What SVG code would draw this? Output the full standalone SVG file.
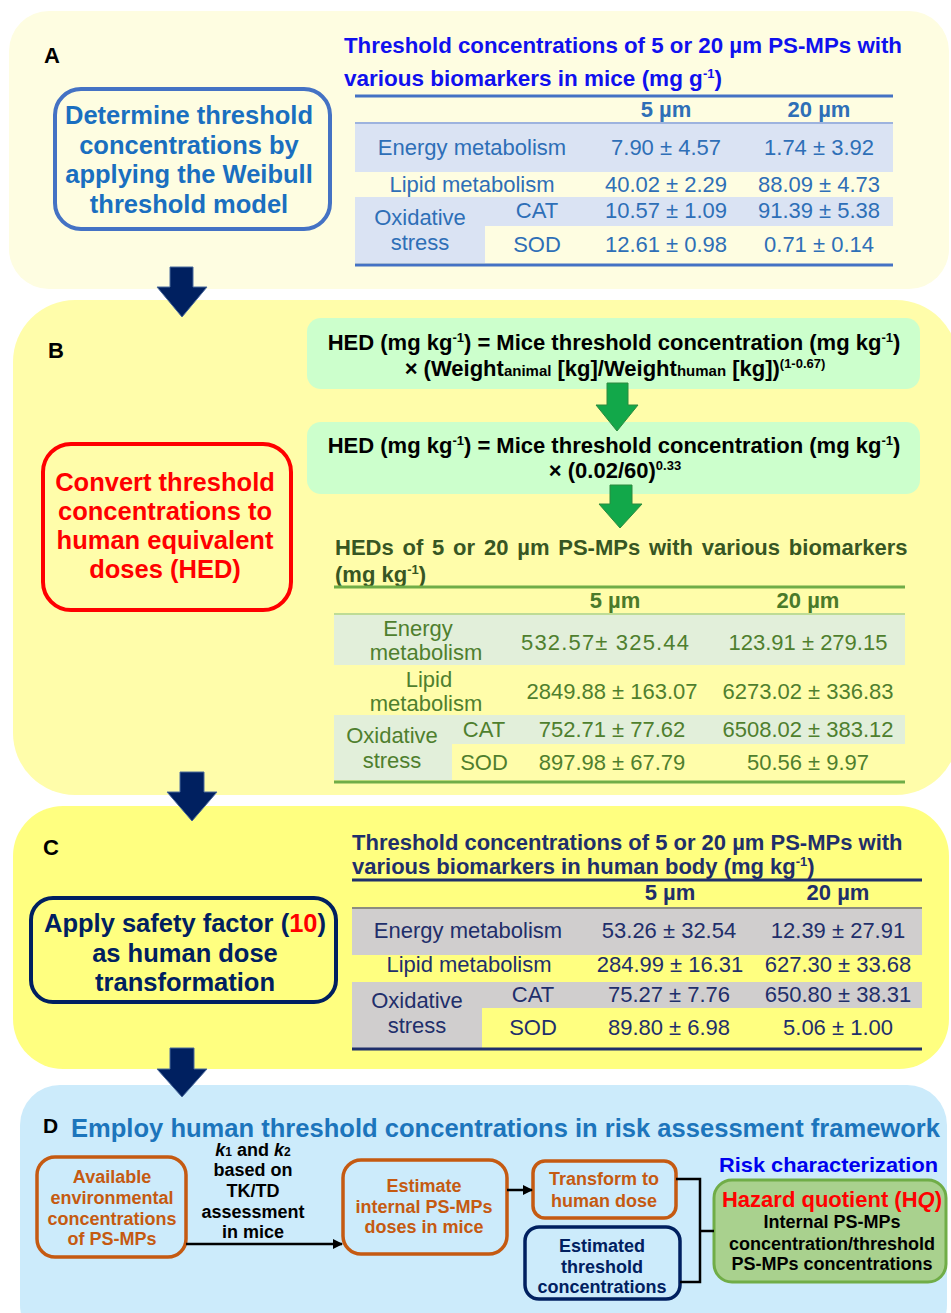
<svg xmlns="http://www.w3.org/2000/svg" width="951" height="1313" viewBox="0 0 951 1313">
<style>
text{font-family:"Liberation Sans",Arial,sans-serif}
.b{font-weight:bold}
.m{text-anchor:middle}
.lbl{font-size:22px;font-weight:bold;fill:#000}
.ta{font-size:22px;fill:#2E6FB7}
.tb{font-size:22px;fill:#4F7F2E}
.tc{font-size:22px;fill:#1F2F6B}
.form{font-size:22px;font-weight:bold;fill:#000}
.dn{font-size:18px;font-weight:bold}
.or{fill:#C55A11}
.nv{fill:#002060}
.bigarrow{fill:#002060;stroke:#4A6A9C;stroke-width:1}
.grarrow{fill:#12A84A;stroke:#2C8A3E;stroke-width:1}
.conn{stroke:#000;stroke-width:2.5;fill:none}
</style>
<defs>
<marker id="ah" markerWidth="10" markerHeight="10" refX="9" refY="5" orient="auto" markerUnits="userSpaceOnUse">
<path d="M0,0 L10,5 L0,10 Z" fill="#000"/>
</marker>
</defs>

<!-- Panel A -->
<g id="panelA">
<rect x="9" y="11" width="940" height="278" rx="40" fill="#FEFDE1"/>
<text class="lbl" x="44" y="63">A</text>
<text class="b" x="344" y="53" font-size="22.5" fill="#1010EE" textLength="558" lengthAdjust="spacingAndGlyphs">Threshold concentrations of 5 or 20 µm PS-MPs with</text>
<text class="b" x="344" y="86" font-size="22.5" fill="#1010EE">various biomarkers in mice (mg g<tspan dy="-8" font-size="13">-1</tspan><tspan dy="8">)</tspan></text>
</g>
<g id="nodeA-weibull">
<rect x="55" y="89" width="275" height="140" rx="26" fill="none" stroke="#4472C4" stroke-width="4"/>
<g class="b m" font-size="25.5" fill="#1A6FC0">
<text x="189" y="124">Determine threshold</text>
<text x="189" y="154">concentrations by</text>
<text x="189" y="183">applying the Weibull</text>
<text x="189" y="213">threshold model</text>
</g>
</g>
<g id="tableA">
<rect x="355" y="124" width="538" height="48" fill="#DAE3F3"/>
<rect x="355" y="197" width="538" height="29" fill="#DAE3F3"/>
<rect x="355" y="226" width="130" height="37" fill="#DAE3F3"/>
<line x1="355" y1="96" x2="893" y2="96" stroke="#4472C4" stroke-width="3"/>
<line x1="355" y1="123" x2="893" y2="123" stroke="#9DB3DE" stroke-width="2"/>
<line x1="355" y1="265" x2="893" y2="265" stroke="#4472C4" stroke-width="3"/>
<g class="ta m">
<text class="b" x="666" y="117">5 µm</text>
<text class="b" x="819" y="117">20 µm</text>
<text x="472" y="155">Energy metabolism</text>
<text x="666" y="155">7.90 ± 4.57</text>
<text x="819" y="155">1.74 ± 3.92</text>
<text x="472" y="192">Lipid metabolism</text>
<text x="666" y="192">40.02 ± 2.29</text>
<text x="819" y="192">88.09 ± 4.73</text>
<text x="420" y="225">Oxidative</text>
<text x="420" y="250">stress</text>
<text x="537" y="218">CAT</text>
<text x="666" y="218">10.57 ± 1.09</text>
<text x="819" y="218">91.39 ± 5.38</text>
<text x="537" y="252">SOD</text>
<text x="666" y="252">12.61 ± 0.98</text>
<text x="819" y="252">0.71 ± 0.14</text>
</g>
</g>

<!-- Panel B -->
<g id="panelB">
<rect x="13" y="300" width="945" height="495" rx="62" fill="#FFFDAA"/>
<text class="lbl" x="48" y="358">B</text>
</g>
<g id="nodeB-formula1">
<rect x="307" y="318" width="613" height="71" rx="14" fill="#CCFFCC"/>
<text class="form m" x="614" y="350">HED (mg kg<tspan dy="-8" font-size="13">-1</tspan><tspan dy="8">) = Mice threshold concentration (mg kg</tspan><tspan dy="-8" font-size="13">-1</tspan><tspan dy="8">)</tspan></text>
<text class="form m" x="615" y="376">× (Weight<tspan font-size="15">animal</tspan> [kg]/Weight<tspan font-size="15">human</tspan> [kg])<tspan dy="-8" font-size="13">(1-0.67)</tspan></text>
</g>
<g id="nodeB-formula2">
<rect x="307" y="422" width="613" height="72" rx="14" fill="#CCFFCC"/>
<text class="form m" x="614" y="453">HED (mg kg<tspan dy="-8" font-size="13">-1</tspan><tspan dy="8">) = Mice threshold concentration (mg kg</tspan><tspan dy="-8" font-size="13">-1</tspan><tspan dy="8">)</tspan></text>
<text class="form m" x="615" y="478">× (0.02/60)<tspan dy="-8" font-size="13">0.33</tspan></text>
</g>
<g id="nodeB-convert">
<rect x="43" y="444" width="248" height="166" rx="28" fill="none" stroke="#FF0000" stroke-width="4"/>
<g class="b m" font-size="25.5" fill="#FF0000">
<text x="165" y="491">Convert threshold</text>
<text x="165" y="520">concentrations to</text>
<text x="165" y="549">human equivalent</text>
<text x="165" y="578">doses (HED)</text>
</g>
</g>
<g id="tableB">
<text class="b" x="335" y="555" font-size="22" fill="#375623" word-spacing="2.7">HEDs of 5 or 20 µm PS-MPs with various biomarkers</text>
<text class="b" x="335" y="582" font-size="22" fill="#375623">(mg kg<tspan dy="-8" font-size="13">-1</tspan><tspan dy="8">)</tspan></text>
<rect x="334" y="615" width="571" height="50" fill="#E2EFDA"/>
<rect x="334" y="715" width="571" height="29" fill="#E2EFDA"/>
<rect x="334" y="744" width="118" height="36" fill="#E2EFDA"/>
<line x1="334" y1="587" x2="905" y2="587" stroke="#70AD47" stroke-width="3"/>
<line x1="334" y1="614" x2="905" y2="614" stroke="#A9D18E" stroke-width="1.5"/>
<line x1="334" y1="782" x2="905" y2="782" stroke="#70AD47" stroke-width="3"/>
<g class="tb m">
<text class="b" x="615" y="608" fill="#4A7A2A">5 µm</text>
<text class="b" x="808" y="608" fill="#4A7A2A">20 µm</text>
<text x="418" y="636">Energy</text>
<text x="426" y="660">metabolism</text>
<text x="605" y="650" textLength="168" lengthAdjust="spacing">532.57± 325.44</text>
<text x="808" y="650">123.91 ± 279.15</text>
<text x="429" y="687">Lipid</text>
<text x="426" y="711">metabolism</text>
<text x="612" y="699">2849.88 ± 163.07</text>
<text x="808" y="699">6273.02 ± 336.83</text>
<text x="392" y="743">Oxidative</text>
<text x="392" y="768">stress</text>
<text x="484" y="737">CAT</text>
<text x="612" y="737">752.71 ± 77.62</text>
<text x="808" y="737">6508.02 ± 383.12</text>
<text x="484" y="770">SOD</text>
<text x="612" y="770">897.98 ± 67.79</text>
<text x="808" y="770">50.56 ± 9.97</text>
</g>
</g>

<!-- Panel C -->
<g id="panelC">
<rect x="13" y="806" width="936" height="263" rx="50" fill="#FFFF80"/>
<text class="lbl" x="43" y="855">C</text>
</g>
<g id="nodeC-safety">
<rect x="31" y="898" width="305" height="104" rx="22" fill="none" stroke="#002060" stroke-width="4"/>
<g class="b m" font-size="25.5" fill="#002060">
<text x="185" y="932">Apply safety factor (<tspan fill="#FF0000">10</tspan>)</text>
<text x="185" y="962">as human dose</text>
<text x="185" y="991">transformation</text>
</g>
</g>
<g id="tableC">
<text class="b" x="352" y="850" font-size="22" fill="#1F2F6B">Threshold concentrations of 5 or 20 µm PS-MPs with</text>
<text class="b" x="352" y="874" font-size="22" fill="#1F2F6B">various biomarkers in human body (mg kg<tspan dy="-8" font-size="13">-1</tspan><tspan dy="8">)</tspan></text>
<rect x="352" y="909" width="570" height="46" fill="#D0CECE"/>
<rect x="352" y="982" width="570" height="26" fill="#D0CECE"/>
<rect x="352" y="1008" width="130" height="40" fill="#D0CECE"/>
<line x1="352" y1="880" x2="922" y2="880" stroke="#1F2F6B" stroke-width="3"/>
<line x1="352" y1="908" x2="922" y2="908" stroke="#8C8C80" stroke-width="2"/>
<line x1="352" y1="1049" x2="922" y2="1049" stroke="#1F2F6B" stroke-width="3"/>
<g class="tc m">
<text class="b" x="670" y="900">5 µm</text>
<text class="b" x="838" y="900">20 µm</text>
<text x="468" y="938">Energy metabolism</text>
<text x="669" y="938">53.26 ± 32.54</text>
<text x="838" y="938">12.39 ± 27.91</text>
<text x="469" y="972">Lipid metabolism</text>
<text x="670" y="972">284.99 ± 16.31</text>
<text x="838" y="972">627.30 ± 33.68</text>
<text x="417" y="1008">Oxidative</text>
<text x="417" y="1033">stress</text>
<text x="533" y="1002">CAT</text>
<text x="669" y="1002">75.27 ± 7.76</text>
<text x="838" y="1002">650.80 ± 38.31</text>
<text x="533" y="1035">SOD</text>
<text x="669" y="1035">89.80 ± 6.98</text>
<text x="838" y="1035">5.06 ± 1.00</text>
</g>
</g>

<!-- Panel D -->
<g id="panelD">
<rect x="20" y="1085" width="927" height="260" rx="40" fill="#CCEBFB"/>
<text class="b" x="43" y="1133" font-size="21" fill="#000">D</text>
<text class="b" x="71" y="1137" font-size="25" fill="#1C75BC" textLength="869" lengthAdjust="spacingAndGlyphs">Employ human threshold concentrations in risk assessment framework</text>
<text class="b" x="719" y="1172" font-size="21" fill="#0000EE" textLength="219" lengthAdjust="spacingAndGlyphs">Risk characterization</text>
</g>
<g id="nodeD-env">
<rect x="37" y="1157" width="149" height="100" rx="18" fill="none" stroke="#C55A11" stroke-width="3.5"/>
<g class="dn m or">
<text x="112" y="1183">Available</text>
<text x="112" y="1204">environmental</text>
<text x="112" y="1225">concentrations</text>
<text x="112" y="1245">of PS-MPs</text>
</g>
</g>
<g id="nodeD-internal">
<rect x="343" y="1160" width="164" height="94" rx="18" fill="none" stroke="#C55A11" stroke-width="3.5"/>
<g class="dn m or">
<text x="424" y="1192">Estimate</text>
<text x="424" y="1213">internal PS-MPs</text>
<text x="424" y="1233">doses in mice</text>
</g>
</g>
<g id="nodeD-transform">
<rect x="533" y="1161" width="143" height="57" rx="12" fill="none" stroke="#C55A11" stroke-width="3.5"/>
<g class="dn m or">
<text x="604" y="1185">Transform to</text>
<text x="604" y="1207">human dose</text>
</g>
</g>
<g id="nodeD-threshold">
<rect x="525" y="1227" width="155" height="72" rx="14" fill="none" stroke="#002060" stroke-width="3.5"/>
<g class="dn m nv">
<text x="602" y="1252">Estimated</text>
<text x="602" y="1273">threshold</text>
<text x="602" y="1293">concentrations</text>
</g>
</g>
<g id="nodeD-hq">
<rect x="714" y="1180" width="232" height="102" rx="18" fill="#A9D18E" stroke="#70AD47" stroke-width="3"/>
<text class="b m" x="832" y="1207" font-size="22" fill="#FF0000">Hazard quotient (H<tspan font-style="italic">Q</tspan>)</text>
<g class="dn m" fill="#000">
<text x="832" y="1228">Internal PS-MPs</text>
<text x="832" y="1250">concentration/threshold</text>
<text x="832" y="1270">PS-MPs concentrations</text>
</g>
</g>

<!-- Connectors -->
<g id="connectors">
<polygon class="bigarrow" points="170,267 193,267 193,287 207,287 182,317 157,287 170,287"/>
<polygon class="bigarrow" points="180,772 204,772 204,792 217,792 192,821 167,792 180,792"/>
<polygon class="bigarrow" points="170,1048 194,1048 194,1069 207,1069 182,1097 157,1069 170,1069"/>
<polygon class="grarrow" points="607,383 628,383 628,405 638,405 617,431 596,405 607,405"/>
<polygon class="grarrow" points="610,485 632,485 632,504 642,504 620,528 599,504 610,504"/>
<line class="conn" x1="186" y1="1244" x2="342" y2="1244" marker-end="url(#ah)" stroke-width="2.2"/>
<g class="dn m" fill="#000">
<text x="253" y="1156"><tspan font-style="italic">k</tspan><tspan font-size="12">1</tspan> and <tspan font-style="italic">k</tspan><tspan font-size="12">2</tspan></text>
<text x="253" y="1176">based on</text>
<text x="253" y="1197">TK/TD</text>
<text x="253" y="1218">assessment</text>
<text x="253" y="1238">in mice</text>
</g>
<line class="conn" x1="507" y1="1190" x2="532" y2="1190" marker-end="url(#ah)" stroke-width="2.2"/>
<path class="conn" d="M676,1179 H700 V1282 H680 M700,1231 H714"/>
</g>
</svg>
